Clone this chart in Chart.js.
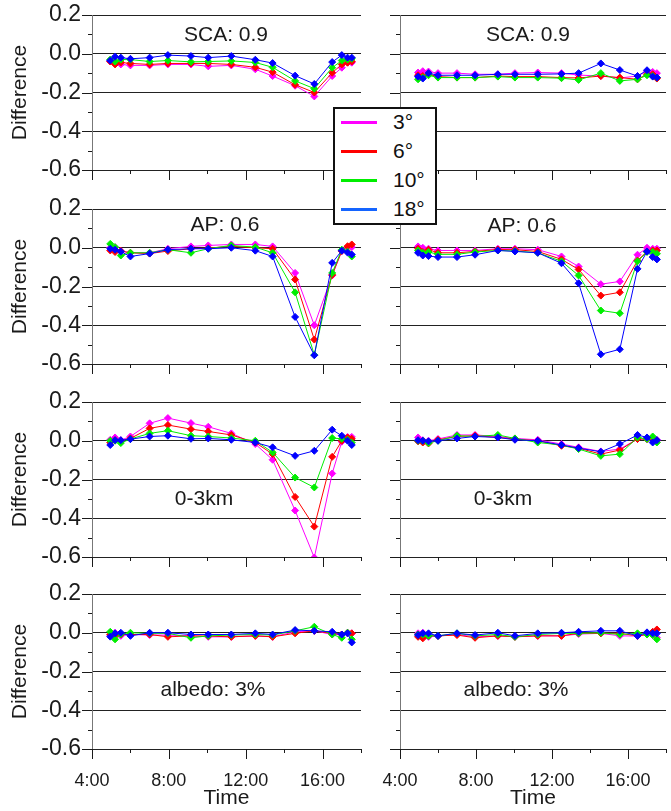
<!DOCTYPE html>
<html>
<head>
<meta charset="utf-8">
<script src="https://cdn.jsdelivr.net/npm/chart.js@4.4.0/dist/chart.umd.min.js"></script>
<style>
  html, body { margin: 0; padding: 0; background: #fff; }
  body { width: 671px; height: 811px; position: relative; overflow: hidden; font-family: "Liberation Sans", Arial, sans-serif; }
  .panel { position: absolute; }
  #legend { position: absolute; left: 333px; top: 107px; width: 104px; height: 118px; box-sizing: border-box;
            border: 2px solid #111; background: #fff; z-index: 5; }
  .item { position: absolute; left: 0; width: 100px; height: 26px; }
  .item .swatch { position: absolute; left: 6px; top: 12px; width: 36px; height: 3px; }
  .item .lbl { position: absolute; left: 58px; top: 0; font-size: 21px; line-height: 26px; color: #111; }
</style>
</head>
<body>
<div id="legend"></div>
<script>
// sampling times (hours)
const times = [4.95, 5.2, 5.5, 6.0, 7.0, 7.95, 9.15, 10.05, 11.25, 12.5, 13.4, 14.57, 15.57, 16.5, 17.0, 17.3, 17.52];

const seriesLabels = ['3°', '6°', '10°', '18°'];
const seriesColors = ['#ff00ff', '#ff0000', '#00ee00', '#0000ff'];
const legendColors = ['#ff00ff', '#ff0000', '#00ee00', '#1464ff'];

const xMajor = [4, 8, 12, 16];
const xMinor = [6, 10, 14, 18];
const yMajor = [0.2, 0, -0.2, -0.4, -0.6];
const yMinor = [0.1, -0.1, -0.3, -0.5];

// SCA: 0.9
const scaLeft3  = [-0.04, -0.05, -0.055, -0.06, -0.06, -0.055, -0.055, -0.065, -0.06, -0.08, -0.115, -0.165, -0.22, -0.115, -0.072, -0.046, -0.046];
const scaLeft6  = [-0.04, -0.055, -0.045, -0.05, -0.055, -0.05, -0.05, -0.05, -0.055, -0.07, -0.095, -0.16, -0.2, -0.098, -0.055, -0.046, -0.04];
const scaLeft10 = [-0.03, -0.04, -0.03, -0.03, -0.04, -0.035, -0.042, -0.04, -0.037, -0.045, -0.07, -0.14, -0.18, -0.072, -0.035, -0.03, -0.026];
const scaLeft18 = [-0.035, -0.015, -0.02, -0.026, -0.02, -0.007, -0.012, -0.02, -0.012, -0.031, -0.048, -0.113, -0.156, -0.043, -0.007, -0.02, -0.02];

const scaRight3  = [-0.097, -0.09, -0.092, -0.1, -0.1, -0.106, -0.106, -0.1, -0.097, -0.1, -0.11, -0.115, -0.125, -0.115, -0.09, -0.094, -0.1];
const scaRight6  = [-0.111, -0.115, -0.106, -0.118, -0.123, -0.123, -0.115, -0.118, -0.118, -0.123, -0.125, -0.115, -0.123, -0.132, -0.106, -0.106, -0.128];
const scaRight10 = [-0.132, -0.123, -0.111, -0.123, -0.123, -0.123, -0.118, -0.123, -0.123, -0.126, -0.135, -0.1, -0.14, -0.132, -0.111, -0.115, -0.123];
const scaRight18 = [-0.118, -0.128, -0.1, -0.111, -0.111, -0.111, -0.106, -0.106, -0.106, -0.104, -0.1, -0.05, -0.084, -0.115, -0.085, -0.118, -0.123];

// AP: 0.6
const apLeft3  = [0.0, 0.003, -0.017, -0.026, -0.026, -0.005, 0.007, 0.012, 0.017, 0.017, 0.007, -0.13, -0.4, -0.143, -0.017, 0.003, 0.003];
const apLeft6  = [-0.014, -0.022, -0.017, -0.026, -0.03, -0.017, -0.005, -0.002, 0.008, 0.0, -0.005, -0.164, -0.474, -0.14, -0.017, 0.008, 0.017];
const apLeft10 = [0.02, 0.003, -0.04, -0.026, -0.026, -0.01, -0.026, -0.005, 0.012, 0.003, -0.026, -0.23, -0.553, -0.13, -0.01, -0.02, -0.045];
const apLeft18 = [-0.005, -0.01, -0.02, -0.045, -0.03, -0.01, -0.005, -0.005, 0.0, -0.015, -0.045, -0.357, -0.555, -0.078, -0.015, -0.025, -0.035];

const apRight3  = [0.007, 0.0, -0.005, -0.014, -0.014, -0.014, -0.005, -0.005, -0.01, -0.045, -0.097, -0.188, -0.174, -0.036, 0.0, -0.005, -0.005];
const apRight6  = [-0.005, -0.022, -0.01, -0.026, -0.026, -0.019, -0.009, -0.01, -0.019, -0.06, -0.112, -0.247, -0.23, -0.066, -0.019, -0.014, -0.014];
const apRight10 = [-0.014, -0.026, -0.022, -0.034, -0.034, -0.022, -0.014, -0.017, -0.026, -0.07, -0.143, -0.324, -0.338, -0.07, -0.022, -0.022, -0.031];
const apRight18 = [-0.026, -0.04, -0.043, -0.048, -0.048, -0.036, -0.014, -0.019, -0.026, -0.08, -0.183, -0.55, -0.524, -0.109, -0.019, -0.048, -0.06];

// 0-3km
const kmLeft3  = [0.005, 0.017, 0.003, 0.022, 0.09, 0.117, 0.091, 0.072, 0.038, -0.017, -0.098, -0.36, -0.603, -0.169, -0.005, 0.02, 0.02];
const kmLeft6  = [-0.009, 0.003, 0.0, 0.012, 0.064, 0.081, 0.06, 0.048, 0.03, -0.009, -0.069, -0.29, -0.443, -0.083, 0.0, 0.017, 0.01];
const kmLeft10 = [0.0, 0.0, -0.012, 0.009, 0.038, 0.052, 0.026, 0.022, 0.014, 0.0, -0.06, -0.19, -0.241, 0.014, 0.01, 0.005, -0.01];
const kmLeft18 = [-0.022, 0.003, 0.003, 0.008, 0.022, 0.026, 0.01, 0.012, 0.005, -0.009, -0.034, -0.078, -0.052, 0.057, 0.026, 0.0, -0.022];

const kmRight3  = [0.017, 0.003, 0.0, 0.009, 0.03, 0.03, 0.022, 0.012, 0.005, -0.017, -0.034, -0.055, -0.043, 0.009, 0.009, 0.009, 0.005];
const kmRight6  = [-0.003, -0.009, -0.014, 0.005, 0.022, 0.026, 0.017, 0.009, 0.0, -0.026, -0.038, -0.069, -0.048, 0.009, 0.009, 0.005, 0.0];
const kmRight10 = [0.0, 0.0, -0.012, 0.0, 0.026, 0.022, 0.03, 0.012, -0.009, -0.022, -0.043, -0.078, -0.069, 0.017, 0.009, 0.022, -0.009];
const kmRight18 = [0.003, 0.0, -0.003, 0.0, 0.012, 0.022, 0.017, 0.005, 0.0, -0.022, -0.038, -0.057, -0.017, 0.03, 0.017, -0.009, 0.003];

// albedo: 3%
const alLeft3  = [-0.012, 0.0, -0.016, -0.009, -0.012, -0.012, -0.016, -0.021, -0.021, -0.016, -0.021, 0.005, 0.01, -0.009, -0.009, -0.003, -0.003];
const alLeft6  = [-0.009, -0.016, -0.009, -0.009, -0.009, -0.021, -0.016, -0.017, -0.021, -0.016, -0.021, -0.003, 0.01, -0.003, -0.009, 0.0, -0.003];
const alLeft10 = [0.005, -0.034, -0.007, 0.0, -0.003, -0.003, -0.026, -0.016, -0.012, -0.009, -0.012, 0.01, 0.031, -0.009, -0.026, 0.0, -0.034];
const alLeft18 = [-0.02, -0.003, 0.0, -0.016, 0.0, 0.0, -0.009, -0.009, -0.009, -0.003, -0.009, 0.014, 0.01, 0.005, -0.009, -0.003, -0.05];

const alRight3  = [-0.003, 0.0, -0.021, -0.017, -0.009, -0.021, -0.016, -0.021, -0.016, -0.016, -0.007, -0.003, -0.016, -0.017, -0.009, -0.012, -0.026];
const alRight6  = [-0.021, -0.029, -0.016, -0.016, -0.012, -0.026, -0.016, -0.021, -0.016, -0.016, -0.003, -0.003, -0.003, -0.016, -0.009, 0.005, 0.017];
const alRight10 = [-0.009, -0.009, -0.016, -0.016, -0.003, -0.016, -0.009, -0.021, -0.009, -0.003, -0.003, 0.0, -0.009, -0.003, -0.009, -0.012, -0.034];
const alRight18 = [-0.012, -0.003, -0.003, -0.016, -0.003, -0.012, 0.0, -0.016, -0.003, 0.0, 0.005, 0.01, 0.01, -0.016, 0.002, -0.003, -0.003];

const rowTops = [15, 209, 402, 594];
const plotH = 155;

const panels = [
  { row: 0, col: 0, title: 'SCA: 0.9', tx: 134, ty: 20, series: [scaLeft3, scaLeft6, scaLeft10, scaLeft18] },
  { row: 0, col: 1, title: 'SCA: 0.9', tx: 128, ty: 20, series: [scaRight3, scaRight6, scaRight10, scaRight18] },
  { row: 1, col: 0, title: 'AP: 0.6', tx: 133, ty: 16, series: [apLeft3, apLeft6, apLeft10, apLeft18] },
  { row: 1, col: 1, title: 'AP: 0.6', tx: 122, ty: 17, series: [apRight3, apRight6, apRight10, apRight18] },
  { row: 2, col: 0, title: '0-3km', tx: 112, ty: 97, series: [kmLeft3, kmLeft6, kmLeft10, kmLeft18] },
  { row: 2, col: 1, title: '0-3km', tx: 103, ty: 97, series: [kmRight3, kmRight6, kmRight10, kmRight18] },
  { row: 3, col: 0, title: 'albedo: 3%', tx: 121, ty: 96, series: [alLeft3, alLeft6, alLeft10, alLeft18] },
  { row: 3, col: 1, title: 'albedo: 3%', tx: 116, ty: 96, series: [alRight3, alRight6, alRight10, alRight18] }
];

const ink = '#1a1a1a';
const clear = 'rgba(0,0,0,0)';

// tick marks outside the plot (major + minor)
const tickMarks = {
  id: 'tickMarks',
  afterDraw(chart) {
    const { ctx, chartArea: a, scales: { x, y } } = chart;
    ctx.save();
    ctx.strokeStyle = ink;
    ctx.lineWidth = 1;
    ctx.beginPath();
    xMajor.forEach(v => {
      const px = Math.round(x.getPixelForValue(v)) + 0.5;
      ctx.moveTo(px, a.bottom); ctx.lineTo(px, a.bottom + 10);
    });
    xMinor.forEach(v => {
      const px = Math.round(x.getPixelForValue(v)) + 0.5;
      ctx.moveTo(px, a.bottom); ctx.lineTo(px, a.bottom + 4);
    });
    yMajor.forEach(v => {
      const py = Math.round(y.getPixelForValue(v)) + 0.5;
      ctx.moveTo(a.left - 10, py); ctx.lineTo(a.left, py);
    });
    yMinor.forEach(v => {
      const py = Math.round(y.getPixelForValue(v)) + 0.5;
      ctx.moveTo(a.left - 4, py); ctx.lineTo(a.left, py);
    });
    ctx.stroke();
    ctx.restore();
  }
};

// panel caption inside the plot
const panelTitle = {
  id: 'panelTitle',
  afterDatasetsDraw(chart, args, opts) {
    const { ctx, chartArea: a } = chart;
    ctx.save();
    ctx.font = '21px "Liberation Sans", Arial, sans-serif';
    ctx.fillStyle = ink;
    ctx.textAlign = 'center';
    ctx.textBaseline = 'middle';
    ctx.fillText(opts.text, a.left + opts.dx, a.top + opts.dy);
    ctx.restore();
  }
};

function makePanel(p) {
  const isLeft = p.col === 0;
  const isBottom = p.row === 3;
  const top = rowTops[p.row] - 15;
  const left = isLeft ? 0 : 380;
  const width = isLeft ? 366 : 291;
  const height = isBottom ? 811 - top : plotH + 30;

  const div = document.createElement('div');
  div.className = 'panel';
  div.style.left = left + 'px';
  div.style.top = top + 'px';
  div.style.width = width + 'px';
  div.style.height = height + 'px';
  const canvas = document.createElement('canvas');
  canvas.width = width;
  canvas.height = height;
  div.appendChild(canvas);
  document.body.appendChild(div);

  // draw 18° first so 3° ends up on top
  const order = [3, 2, 1, 0];
  const datasets = order.map(i => ({
    label: seriesLabels[i],
    data: times.map((t, k) => ({ x: t, y: p.series[i][k] })),
    borderColor: seriesColors[i],
    backgroundColor: seriesColors[i],
    borderWidth: 1,
    pointStyle: 'rectRot',
    pointRadius: 3.5,
    pointBorderWidth: 1,
    tension: 0
  }));

  new Chart(canvas, {
    type: 'line',
    data: { datasets },
    options: {
      responsive: false,
      animation: false,
      layout: { padding: { top: 15, right: isLeft ? 5 : 1.5, left: 0, bottom: 0 } },
      plugins: {
        legend: { display: false },
        tooltip: { enabled: false },
        panelTitle: { text: p.title, dx: p.tx, dy: p.ty }
      },
      scales: {
        x: {
          type: 'linear',
          min: 4,
          max: 18,
          afterFit: s => { s.height = isBottom ? 62 : 15; },
          // invisible tick marks only reserve room between axis and labels
          grid: { display: true, drawOnChartArea: false, drawTicks: true, tickLength: 21, color: clear, tickColor: clear },
          border: { display: false },
          ticks: {
            display: isBottom,
            stepSize: 2,
            autoSkip: false,
            maxRotation: 0,
            padding: 0,
            color: ink,
            font: { size: 18, family: '"Liberation Sans", Arial, sans-serif' },
            callback: v => (v % 4 === 0 && v < 18) ? v + ':00' : ''
          },
          title: {
            display: isBottom,
            text: 'Time',
            color: ink,
            padding: { top: 0, bottom: 0 },
            font: { size: 21, family: '"Liberation Sans", Arial, sans-serif' }
          }
        },
        y: {
          min: -0.6,
          max: 0.2,
          afterFit: s => { s.width = isLeft ? 92 : 20; },
          grid: { color: '#222', lineWidth: 1, drawTicks: true, tickLength: 11, tickColor: clear },
          border: { display: true, color: '#777', width: 1 },
          ticks: {
            display: isLeft,
            stepSize: 0.2,
            padding: 0,
            color: ink,
            font: { size: 23, family: '"Liberation Sans", Arial, sans-serif' },
            callback: v => Math.abs(v) < 1e-9 ? '0.0' : Number(v).toFixed(1)
          },
          title: {
            display: isLeft,
            text: 'Difference',
            color: ink,
            padding: { top: 8, bottom: 0 },
            font: { size: 21, family: '"Liberation Sans", Arial, sans-serif' }
          }
        }
      }
    },
    plugins: [tickMarks, panelTitle]
  });
}

panels.forEach(makePanel);

// legend box
const legend = document.getElementById('legend');
seriesLabels.forEach((lab, i) => {
  const item = document.createElement('div');
  item.className = 'item';
  item.style.top = (i * 29) + 'px';
  item.innerHTML = '<div class="swatch" style="background:' + legendColors[i] + '"></div><div class="lbl">' + lab + '</div>';
  legend.appendChild(item);
});
</script>
</body>
</html>
